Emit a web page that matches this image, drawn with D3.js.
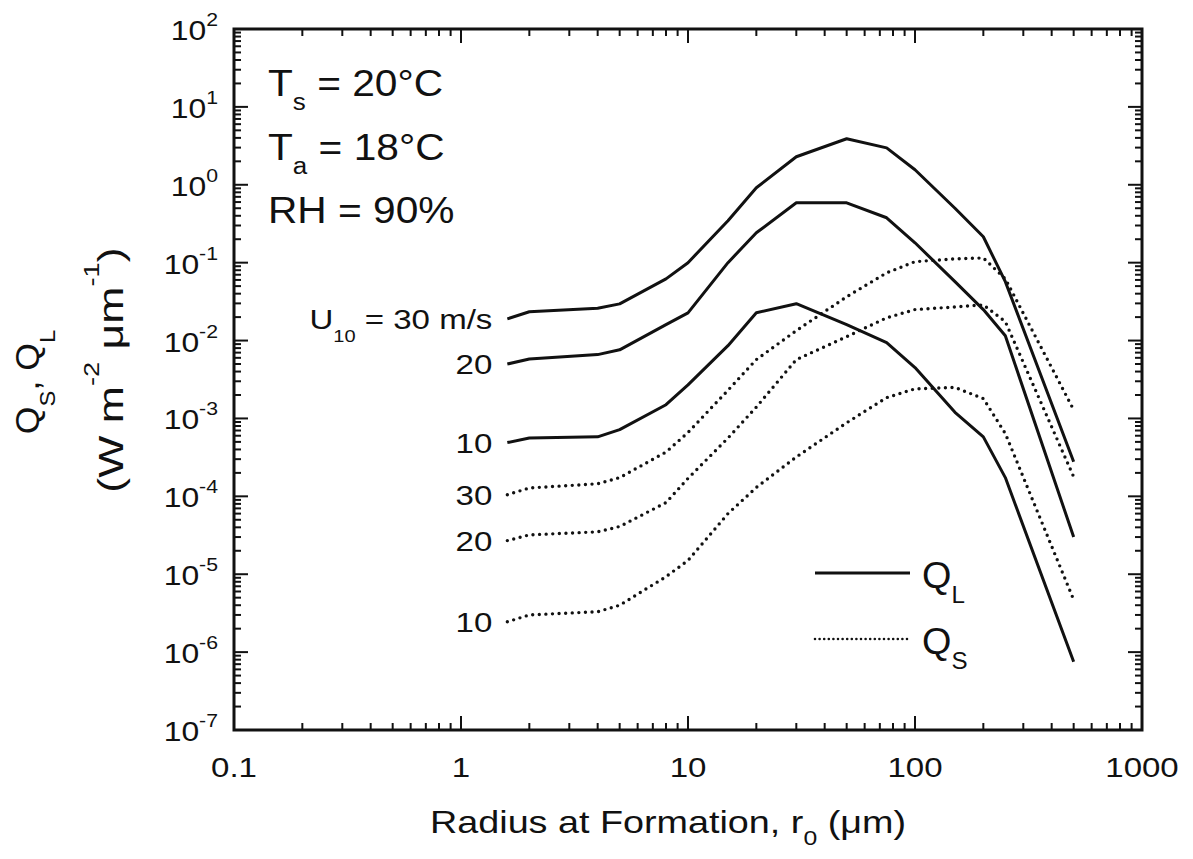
<!DOCTYPE html>
<html>
<head>
<meta charset="utf-8">
<script src="https://cdn.jsdelivr.net/npm/d3@7"></script>
<style>
  body { margin: 0; background: #fff; }
  svg text { font-family: "Liberation Sans", Arial, sans-serif; fill: #111; }
</style>
</head>
<body>
<svg id="chart" width="1193" height="859"></svg>
<script>
// ---- data ----
const radius = [1.6, 2, 4, 5, 8, 10, 15, 20, 30, 50, 75, 100, 150, 200, 250, 500];

const qL30 = [0.019, 0.0234, 0.026, 0.0296, 0.062, 0.1, 0.345, 0.915, 2.29, 3.9, 2.98, 1.56, 0.5, 0.215, 0.057, 2.78e-4];
const qL20 = [0.005, 0.0058, 0.0066, 0.0076, 0.016, 0.0227, 0.10, 0.242, 0.587, 0.587, 0.377, 0.18, 0.057, 0.025, 0.0115, 3.0e-5];
const qL10 = [4.9e-4, 5.6e-4, 5.8e-4, 7.2e-4, 1.5e-3, 2.7e-3, 8.6e-3, 0.0227, 0.0297, 0.016, 0.0094, 0.0045, 1.2e-3, 5.8e-4, 1.74e-4, 7.5e-7];
const qS30 = [1.05e-4, 1.28e-4, 1.45e-4, 1.74e-4, 3.7e-4, 6.6e-4, 2.3e-3, 5.7e-3, 0.0134, 0.0365, 0.074, 0.103, 0.112, 0.115, 0.062, 1.29e-3];
const qS20 = [2.7e-5, 3.2e-5, 3.5e-5, 4.1e-5, 8.3e-5, 1.7e-4, 5.6e-4, 1.4e-3, 5.7e-3, 0.0112, 0.0196, 0.025, 0.027, 0.0287, 0.0175, 1.78e-4];
const qS10 = [2.45e-6, 3.0e-6, 3.3e-6, 4.0e-6, 9.3e-6, 1.5e-5, 6.0e-5, 1.3e-4, 3.2e-4, 8.8e-4, 1.85e-3, 2.4e-3, 2.5e-3, 1.8e-3, 6.4e-4, 4.7e-6];

const xTickVals  = [0.1, 1, 10, 100, 1000];
const xTickText  = ['0.1', '1', '10', '100', '1000'];
const yExponents = [2, 1, 0, -1, -2, -3, -4, -5, -6, -7];

// series: values, style, label in front of the curve
const series = [
  { vals: qL30, kind: 'L', label: 'U10' },
  { vals: qL20, kind: 'L', label: '20' },
  { vals: qL10, kind: 'L', label: '10' },
  { vals: qS30, kind: 'S', label: '30' },
  { vals: qS20, kind: 'S', label: '20' },
  { vals: qS10, kind: 'S', label: '10' }
];

// ---- layout ----
const L = 234, T = 29, R = 1142, B = 730;
const SX = 1.18;   // lettering in the original is a bit wide
const svg = d3.select('#chart');

const x = d3.scaleLog().domain([0.1, 1000]).range([L, R]);
const y = d3.scaleLog().domain([1e-7, 1e2]).range([B, T]);

// text placed at (px,py), stretched horizontally by sx
function sText(g, px, py, size, sx, anchor) {
  return g.append('text')
    .attr('transform', `translate(${px},${py}) scale(${sx},1)`)
    .attr('font-size', size)
    .attr('text-anchor', anchor || 'start');
}

// ticks on all four sides, pointing inward
const ticks = svg.append('g').attr('stroke', '#111').attr('stroke-width', 2);
const majLen = 14, minLen = 7;

function minorsOf(lo, hi) {
  const out = [];
  for (let d = lo; d < hi; d *= 10)
    for (let k = 2; k <= 9; k++) out.push(d * k);
  return out;
}

const xMinor = minorsOf(0.1, 1000);
const yMinor = minorsOf(1e-7, 1e2);

xTickVals.forEach(v => {
  ticks.append('line').attr('x1', x(v)).attr('x2', x(v)).attr('y1', B).attr('y2', B - majLen);
  ticks.append('line').attr('x1', x(v)).attr('x2', x(v)).attr('y1', T).attr('y2', T + majLen);
});
xMinor.forEach(v => {
  ticks.append('line').attr('x1', x(v)).attr('x2', x(v)).attr('y1', B).attr('y2', B - minLen);
  ticks.append('line').attr('x1', x(v)).attr('x2', x(v)).attr('y1', T).attr('y2', T + minLen);
});
yExponents.forEach(e => {
  const v = Math.pow(10, e);
  ticks.append('line').attr('x1', L).attr('x2', L + majLen).attr('y1', y(v)).attr('y2', y(v));
  ticks.append('line').attr('x1', R).attr('x2', R - majLen).attr('y1', y(v)).attr('y2', y(v));
});
yMinor.forEach(v => {
  ticks.append('line').attr('x1', L).attr('x2', L + minLen).attr('y1', y(v)).attr('y2', y(v));
  ticks.append('line').attr('x1', R).attr('x2', R - minLen).attr('y1', y(v)).attr('y2', y(v));
});

// frame
svg.append('rect')
  .attr('x', L).attr('y', T).attr('width', R - L).attr('height', B - T)
  .attr('fill', 'none').attr('stroke', '#111').attr('stroke-width', 3);

// x tick labels
xTickVals.forEach((v, i) => {
  sText(svg, x(v), B + 47, 28, SX, 'middle').text(xTickText[i]);
});

// y tick labels: 10 with superscript
yExponents.forEach(e => {
  const t = sText(svg, L - 16, y(Math.pow(10, e)) + 11, 27, SX, 'end');
  t.append('tspan').text('10');
  t.append('tspan').attr('font-size', 18).attr('dy', -14).text(e);
});

// curves
const line = d3.line()
  .x((d, i) => x(radius[i]))
  .y(d => y(d));

series.forEach(s => {
  const p = svg.append('path')
    .attr('d', line(s.vals))
    .attr('fill', 'none').attr('stroke', '#111')
    .attr('stroke-linejoin', 'round');
  if (s.kind === 'L') {
    p.attr('stroke-width', 3);
  } else {
    p.attr('stroke-width', 3.4).attr('stroke-linecap', 'round').attr('stroke-dasharray', '0 6.6');
  }
});

// curve labels (U10 values) placed in front of each curve start
series.forEach(s => {
  const t = sText(svg, x(radius[0]) - 15, y(s.vals[0]) + 10, 28, SX, 'end');
  if (s.label === 'U10') {
    t.append('tspan').text('U');
    t.append('tspan').attr('font-size', 17).attr('dy', 13).text('10');
    t.append('tspan').attr('dy', -13).text(' = 30 m/s');
  } else {
    t.text(s.label);
  }
});

// conditions block
const cond = [
  { main: 'T', sub: 's', rest: ' = 20°C', y: 96 },
  { main: 'T', sub: 'a', rest: ' = 18°C', y: 160 },
  { main: 'RH = 90%', sub: '', rest: '', y: 223 }
];
cond.forEach(c => {
  const t = sText(svg, 268, c.y, 36, 1.13);
  t.append('tspan').text(c.main);
  if (c.sub) {
    t.append('tspan').attr('font-size', 23).attr('dy', 14).text(c.sub);
    t.append('tspan').attr('dy', -14).text(c.rest);
  }
});

// legend
const leg = svg.append('g');
leg.append('line').attr('x1', 815).attr('x2', 910).attr('y1', 573).attr('y2', 573)
  .attr('stroke', '#111').attr('stroke-width', 3);
leg.append('line').attr('x1', 815).attr('x2', 910).attr('y1', 639).attr('y2', 639)
  .attr('stroke', '#111').attr('stroke-width', 2.6).attr('stroke-linecap', 'round')
  .attr('stroke-dasharray', '0 4.6');
[['L', 588], ['S', 654]].forEach(([s, yy]) => {
  const t = sText(leg, 922, yy, 36, 1.05);
  t.append('tspan').text('Q');
  t.append('tspan').attr('font-size', 23).attr('dy', 15).text(s);
});

// x title
const xt = sText(svg, 668, 833, 32, SX, 'middle');
xt.append('tspan').text('Radius at Formation, r');
xt.append('tspan').attr('font-size', 21).attr('dy', 12).text('0');
xt.append('tspan').attr('dy', -12).text(' (μm)');

// y title, two rotated lines
const yt1 = svg.append('text').attr('font-size', 33).attr('text-anchor', 'middle')
  .attr('transform', 'translate(39,382) rotate(-90) scale(1.08,1)');
yt1.append('tspan').text('Q');
yt1.append('tspan').attr('font-size', 22).attr('dy', 16).text('S');
yt1.append('tspan').attr('dy', -16).text(', Q');
yt1.append('tspan').attr('font-size', 22).attr('dy', 16).text('L');

const yt2 = svg.append('text').attr('font-size', 36).attr('text-anchor', 'middle')
  .attr('transform', 'translate(123,370) rotate(-90) scale(1.24,1)');
yt2.append('tspan').text('(W m');
yt2.append('tspan').attr('font-size', 22).attr('dy', -24).text('-2');
yt2.append('tspan').attr('dy', 24).text(' μm');
yt2.append('tspan').attr('font-size', 22).attr('dy', -24).text('-1');
yt2.append('tspan').attr('dy', 24).text(')');
</script>
</body>
</html>
